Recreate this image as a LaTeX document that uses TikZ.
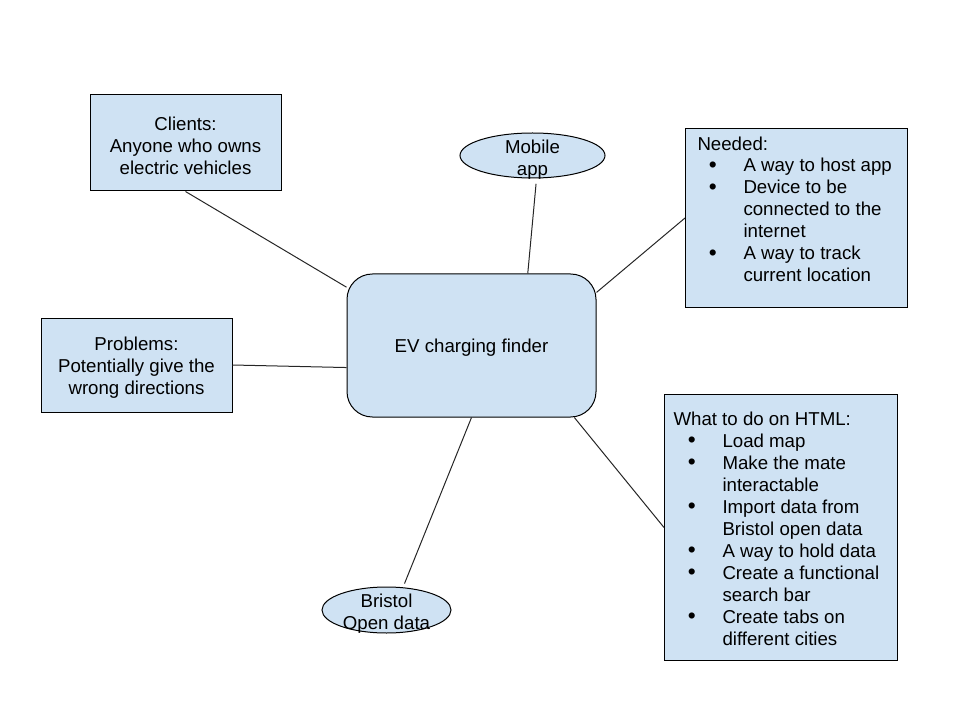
\documentclass[tikz,border=0pt]{standalone}
\usepackage{fontspec}
\setmainfont{Liberation Sans}
\usetikzlibrary{shapes.geometric}
\definecolor{boxblue}{HTML}{CFE2F3}
\newcommand{\bigdot}{\raisebox{-0.6pt}{\fontsize{17}{16.5}\selectfont\textbullet}}
\newcommand{\itemrow}[3]{\makebox[#2][l]{\hspace*{#1}\makebox[0pt]{\bigdot}}#3}
\newcommand{\controw}[2]{\hspace*{#1}#2}
\newcommand{\topstrut}[1]{\rule{0pt}{#1}}

\begin{document}
\begin{tikzpicture}[x=0.75pt,y=-0.75pt,
  every node/.style={font=\fontsize{14}{16.5}\selectfont},
  plainbox/.style={draw,fill=boxblue,line width=0.75pt,inner sep=0pt,align=center},
  ovalbox/.style={draw,fill=boxblue,line width=0.75pt,ellipse,inner sep=0pt},
  listbox/.style={draw,fill=boxblue,line width=0.75pt,inner sep=0pt,anchor=north west},
  link/.style={draw=black!85,line width=0.75pt}]
  \useasboundingbox (0,0) rectangle (960,720);

  %central node
  \node[plainbox,rounded corners=19pt,minimum width=186.75pt,minimum height=107.25pt] (center) at (471.5,345.5) {\topstrut{13pt}EV charging finder};

  %boxes round it
  \node[plainbox,minimum width=143.25pt,minimum height=72pt] (clients) at (185.5,143) {\topstrut{14.5pt}Clients:\\Anyone who owns\\electric vehicles};
  \node[plainbox,minimum width=143.25pt,minimum height=70.5pt] (problems) at (136.5,365) {\topstrut{14.5pt}Problems:\\Potentially give the\\wrong directions};
  \node[ovalbox,minimum width=108.75pt,minimum height=33.75pt,
    label={[name=mobiletext,align=center,yshift=-3pt]center:Mobile\\app}] (mobile) at (532.5,155.5) {};
  \node[ovalbox,minimum width=96.75pt,minimum height=34.5pt,
    label={[name=bristoltext,align=center,yshift=-2.4pt]center:Bristol\\Open data}] (bristol) at (386.5,610) {};

  %bullet lists
  \node[listbox] (needed) at (685,128) {\parbox[t][134.25pt][t]{166.5pt}{\topstrut{16.5pt}\hspace*{9pt}Needed:\\[-0.8pt]
    \itemrow{20.5pt}{43.5pt}{A way to host app}\\
    \itemrow{20.5pt}{43.5pt}{Device to be}\\
    \controw{43.5pt}{connected to the}\\
    \controw{43.5pt}{internet}\\
    \itemrow{20.5pt}{43.5pt}{A way to track}\\
    \controw{43.5pt}{current location}}};
  \node[listbox] (html) at (664,394) {\parbox[t][199.5pt][t]{174.75pt}{\topstrut{23pt}\hspace*{6.75pt}What to do on HTML:\\
    \itemrow{20.5pt}{43.5pt}{Load map}\\
    \itemrow{20.5pt}{43.5pt}{Make the mate}\\
    \controw{43.5pt}{interactable}\\
    \itemrow{20.5pt}{43.5pt}{Import data from}\\
    \controw{43.5pt}{Bristol open data}\\
    \itemrow{20.5pt}{43.5pt}{A way to hold data}\\
    \itemrow{20.5pt}{43.5pt}{Create a functional}\\
    \controw{43.5pt}{search bar}\\
    \itemrow{20.5pt}{43.5pt}{Create tabs on}\\
    \controw{43.5pt}{different cities}}};

  %connectors
  \draw[link] (clients.south) -- (center.155);
  \draw[link,shorten <=4pt] (mobile.-80) -- (center.52);
  \draw[link] (needed.west) -- (center.23);
  \draw[link] (problems.east) -- (center.190);
  \draw[link] (center.-35) -- (html.west);
  \draw[link,shorten >=3pt] (center.south) -- (bristol.54);
\end{tikzpicture}
\end{document}
